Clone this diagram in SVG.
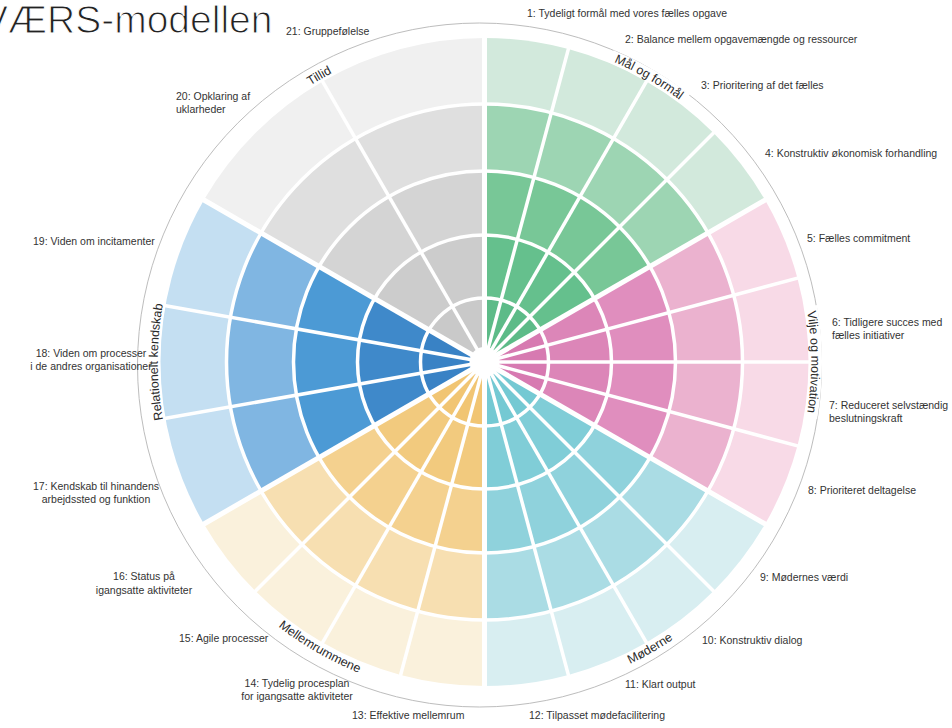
<svg xmlns="http://www.w3.org/2000/svg" width="952" height="728" viewBox="0 0 952 728">
  <style>
    text { font-family: "Liberation Sans", Arial, sans-serif; fill: #333; }
    .title { font-size: 39px; fill: #222; stroke: #fff; stroke-width: 1.1px; }
    .lbl { font-size: 10.5px; }
    .mid { text-anchor: middle; }
    .cat { font-size: 12.5px; fill: #2a2a2a; }
    .band { fill: none; stroke: #fff; stroke-width: 13px; }
    .rings circle { fill: none; stroke: #fff; stroke-width: 3.5px; }
    .spokes line { stroke: #fff; stroke-width: 3.5px; }
    .spokes line.major { stroke-width: 5px; }
  </style>

  <defs>
    <!-- arcs that carry the theme names; clockwise arcs keep glyph tops outward -->
    <path id="arc-tillid" d="M157.8 362 A326.7 326.7 0 0 1 647.85 79.07"/>
    <path id="arc-maal" d="M321.15 79.07 A326.7 326.7 0 0 1 811.2 362"/>
    <path id="arc-vilje" d="M647.85 79.07 A326.7 326.7 0 0 1 647.85 644.93"/>
    <path id="arc-rel" d="M321.15 644.93 A326.7 326.7 0 0 1 321.15 79.07"/>
    <!-- counter-clockwise arcs keep glyph tops inward -->
    <path id="arc-moder" d="M316.85 652.38 A335.3 335.3 0 0 0 819.8 362"/>
    <path id="arc-mellem" d="M149.2 362 A335.3 335.3 0 0 0 652.15 652.38"/>
  </defs>

  <rect width="952" height="728" fill="#fff"/>

  <text class="title" x="-18" y="33">VÆRS-modellen</text>

  <!-- outer guide circle -->
  <circle cx="479.5" cy="365" r="342" fill="none" stroke="#bdbdbd" stroke-width="1"/>

  <!-- theme sectors: stacked pie slices, outermost ring first -->
  <g id="theme-maal">
    <path fill="#d2e9dc" d="M484.5 362 L484.5 38 A324 324 0 0 1 765.09 200 Z"/>
    <path fill="#9dd5b3" d="M484.5 362 L484.5 104 A258 258 0 0 1 707.93 233 Z"/>
    <path fill="#78c797" d="M484.5 362 L484.5 171 A191 191 0 0 1 649.91 266.5 Z"/>
    <path fill="#65c08d" d="M484.5 362 L484.5 235 A127 127 0 0 1 594.49 298.5 Z"/>
    <path fill="#5dbb88" d="M484.5 362 L484.5 298 A64 64 0 0 1 539.93 330 Z"/>
  </g>
  <g id="theme-vilje">
    <path fill="#f8dae7" d="M484.5 362 L765.09 200 A324 324 0 0 1 765.09 524 Z"/>
    <path fill="#ebb2cf" d="M484.5 362 L707.93 233 A258 258 0 0 1 707.93 491 Z"/>
    <path fill="#e08ebe" d="M484.5 362 L649.91 266.5 A191 191 0 0 1 649.91 457.5 Z"/>
    <path fill="#dc86b8" d="M484.5 362 L594.49 298.5 A127 127 0 0 1 594.49 425.5 Z"/>
    <path fill="#d77ab1" d="M484.5 362 L539.93 330 A64 64 0 0 1 539.93 394 Z"/>
  </g>
  <g id="theme-moderne">
    <path fill="#d8eef1" d="M484.5 362 L765.09 524 A324 324 0 0 1 484.5 686 Z"/>
    <path fill="#aadce4" d="M484.5 362 L707.93 491 A258 258 0 0 1 484.5 620 Z"/>
    <path fill="#8fd2dc" d="M484.5 362 L649.91 457.5 A191 191 0 0 1 484.5 553 Z"/>
    <path fill="#80cdd7" d="M484.5 362 L594.49 425.5 A127 127 0 0 1 484.5 489 Z"/>
    <path fill="#74c9d3" d="M484.5 362 L539.93 394 A64 64 0 0 1 484.5 426 Z"/>
  </g>
  <g id="theme-mellem">
    <path fill="#faf1dc" d="M484.5 362 L484.5 686 A324 324 0 0 1 203.91 524 Z"/>
    <path fill="#f7dfb1" d="M484.5 362 L484.5 620 A258 258 0 0 1 261.07 491 Z"/>
    <path fill="#f4d18f" d="M484.5 362 L484.5 553 A191 191 0 0 1 319.09 457.5 Z"/>
    <path fill="#f2ca7e" d="M484.5 362 L484.5 489 A127 127 0 0 1 374.51 425.5 Z"/>
    <path fill="#f1c573" d="M484.5 362 L484.5 426 A64 64 0 0 1 429.07 394 Z"/>
  </g>
  <g id="theme-relation">
    <path fill="#c4dff2" d="M484.5 362 L203.91 524 A324 324 0 0 1 203.91 200 Z"/>
    <path fill="#80b6e2" d="M484.5 362 L261.07 491 A258 258 0 0 1 261.07 233 Z"/>
    <path fill="#4c9ad5" d="M484.5 362 L319.09 457.5 A191 191 0 0 1 319.09 266.5 Z"/>
    <path fill="#3f89ca" d="M484.5 362 L374.51 425.5 A127 127 0 0 1 374.51 298.5 Z"/>
    <path fill="#3982c5" d="M484.5 362 L429.07 394 A64 64 0 0 1 429.07 330 Z"/>
  </g>
  <g id="theme-tillid">
    <path fill="#f0f0f0" d="M484.5 362 L203.91 200 A324 324 0 0 1 484.5 38 Z"/>
    <path fill="#dfdfdf" d="M484.5 362 L261.07 233 A258 258 0 0 1 484.5 104 Z"/>
    <path fill="#d4d4d4" d="M484.5 362 L319.09 266.5 A191 191 0 0 1 484.5 171 Z"/>
    <path fill="#cccccc" d="M484.5 362 L374.51 298.5 A127 127 0 0 1 484.5 235 Z"/>
    <path fill="#c9c9c9" d="M484.5 362 L429.07 330 A64 64 0 0 1 484.5 298 Z"/>
  </g>

  <!-- white ring borders -->
  <g class="rings" transform="translate(484.5 362)">
    <circle r="64"/><circle r="127"/><circle r="191"/><circle r="258"/>
  </g>

  <!-- white spokes between items; thicker ones between themes -->
  <g class="spokes" transform="translate(484.5 362)">
    <line class="major" x2="0" y2="-328"/>
    <line x2="0" y2="-328" transform="rotate(15)"/>
    <line x2="0" y2="-328" transform="rotate(30)"/>
    <line x2="0" y2="-328" transform="rotate(45)"/>
    <line class="major" x2="0" y2="-328" transform="rotate(60)"/>
    <line x2="0" y2="-328" transform="rotate(75)"/>
    <line x2="0" y2="-328" transform="rotate(90)"/>
    <line x2="0" y2="-328" transform="rotate(105)"/>
    <line class="major" x2="0" y2="-328" transform="rotate(120)"/>
    <line x2="0" y2="-328" transform="rotate(135)"/>
    <line x2="0" y2="-328" transform="rotate(150)"/>
    <line x2="0" y2="-328" transform="rotate(165)"/>
    <line class="major" x2="0" y2="-328" transform="rotate(180)"/>
    <line x2="0" y2="-328" transform="rotate(195)"/>
    <line x2="0" y2="-328" transform="rotate(210)"/>
    <line x2="0" y2="-328" transform="rotate(225)"/>
    <line class="major" x2="0" y2="-328" transform="rotate(240)"/>
    <line x2="0" y2="-328" transform="rotate(260)"/>
    <line x2="0" y2="-328" transform="rotate(280)"/>
    <line class="major" x2="0" y2="-328" transform="rotate(300)"/>
    <line x2="0" y2="-328" transform="rotate(330)"/>
  </g>

  <!-- hub -->
  <circle cx="484.5" cy="362" r="15" fill="#fff"/>

  <!-- theme names on the outer circle, each on a white strip -->
  <g id="themes">
    <path class="band" d="M303.08 85.15 A331 331 0 0 1 335.42 66.48"/>
    <path class="band" d="M611.04 56.16 A331 331 0 0 1 686.08 99.45"/>
    <path class="band" d="M810.73 306.06 A331 331 0 0 1 810.73 417.94"/>
    <path class="band" d="M675.85 632.06 A331 331 0 0 1 622.69 662.78"/>
    <path class="band" d="M365.87 671.02 A331 331 0 0 1 276.2 619.22"/>
    <path class="band" d="M159.56 425.06 A331 331 0 0 1 159.56 298.94"/>
    <text class="cat"><textPath href="#arc-tillid" startOffset="50%" text-anchor="middle">Tillid</textPath></text>
    <text class="cat"><textPath href="#arc-maal" startOffset="50%" text-anchor="middle">Mål og formål</textPath></text>
    <text class="cat"><textPath href="#arc-vilje" startOffset="50%" text-anchor="middle">Vilje og motivation</textPath></text>
    <text class="cat"><textPath href="#arc-moder" startOffset="50%" text-anchor="middle">Møderne</textPath></text>
    <text class="cat"><textPath href="#arc-mellem" startOffset="50%" text-anchor="middle">Mellemrummene</textPath></text>
    <text class="cat"><textPath href="#arc-rel" startOffset="50%" text-anchor="middle">Relationelt kendskab</textPath></text>
  </g>

  <!-- item labels -->
  <g id="labels">
    <text class="lbl" x="527" y="17">1: Tydeligt formål med vores fælles opgave</text>
    <text class="lbl" x="625" y="43">2: Balance mellem opgavemængde og ressourcer</text>
    <text class="lbl" x="701" y="89">3: Prioritering af det fælles</text>
    <text class="lbl" x="765" y="157">4: Konstruktiv økonomisk forhandling</text>
    <text class="lbl" x="807" y="242">5: Fælles commitment</text>
    <text class="lbl" x="832" y="326">6: Tidligere succes med</text>
    <text class="lbl" x="832" y="339">fælles initiativer</text>
    <text class="lbl" x="829" y="409">7: Reduceret selvstændig</text>
    <text class="lbl" x="829" y="422">beslutningskraft</text>
    <text class="lbl" x="808" y="494">8: Prioriteret deltagelse</text>
    <text class="lbl" x="760" y="581">9: Mødernes værdi</text>
    <text class="lbl" x="702" y="644">10: Konstruktiv dialog</text>
    <text class="lbl" x="625" y="688">11: Klart output</text>
    <text class="lbl" x="529" y="719">12: Tilpasset mødefacilitering</text>
    <text class="lbl" x="352" y="719">13: Effektive mellemrum</text>
    <text class="lbl mid" x="297" y="687">14: Tydelig procesplan</text>
    <text class="lbl mid" x="297" y="700">for igangsatte aktiviteter</text>
    <text class="lbl" x="179" y="642">15: Agile processer</text>
    <text class="lbl mid" x="144" y="580">16: Status på</text>
    <text class="lbl mid" x="144" y="594">igangsatte aktiviteter</text>
    <text class="lbl mid" x="96" y="490">17: Kendskab til hinandens</text>
    <text class="lbl mid" x="96" y="503">arbejdssted og funktion</text>
    <text class="lbl mid" x="91" y="357">18: Viden om processer</text>
    <text class="lbl mid" x="91" y="370">i de andres organisationer</text>
    <text class="lbl" x="33" y="245">19: Viden om incitamenter</text>
    <text class="lbl" x="176" y="100">20: Opklaring af</text>
    <text class="lbl" x="176" y="113">uklarheder</text>
    <text class="lbl" x="286" y="35">21: Gruppefølelse</text>
  </g>
</svg>
